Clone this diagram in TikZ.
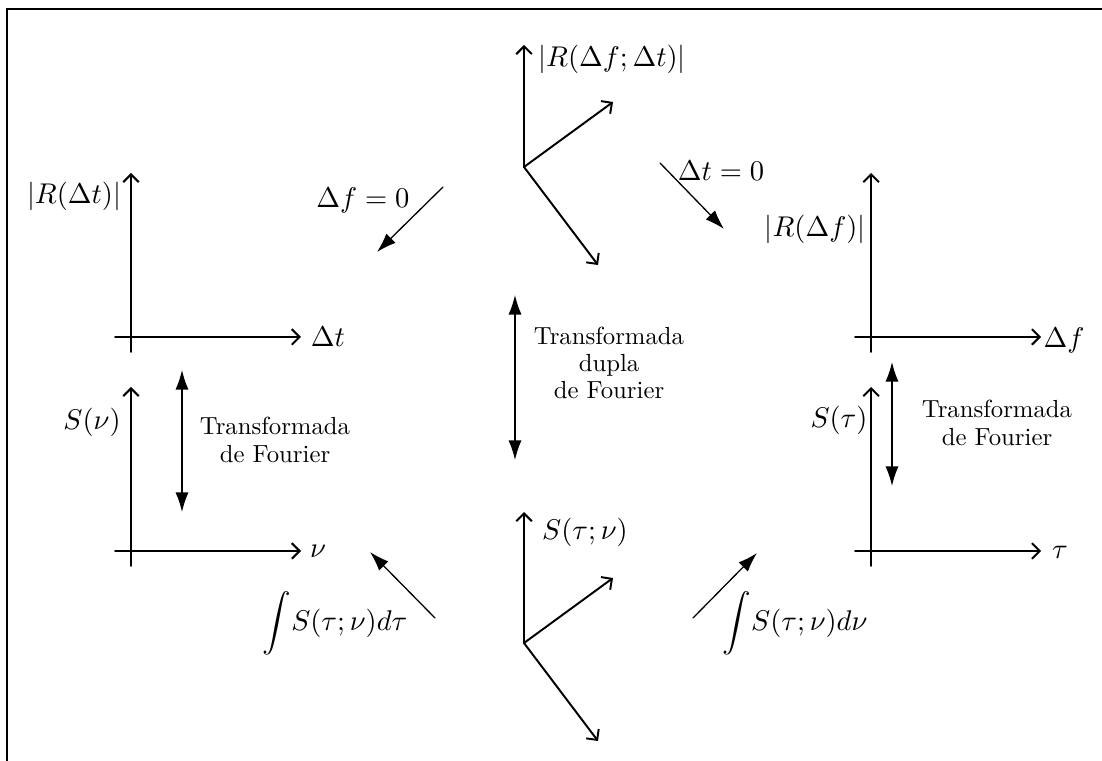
\documentclass[tikz,border=0pt]{standalone}
\usepackage{amsmath,amssymb}
\usetikzlibrary{arrows.meta,calc,positioning}
\tikzset{
 frame/.style={draw,line width=1.1pt},
 axis/.style={draw,line width=.75pt,-{Straight Barb[length=3pt,width=6pt]}},
 flow/.style={draw,line width=.5pt,-{Latex[length=7.5pt,width=5pt]}},
 twoway/.style={draw,line width=.5pt,{Latex[length=7.5pt,width=5pt]}-{Latex[length=7.5pt,width=5pt]}},
 quant/.style={inner sep=1pt,font=\fontsize{11}{13}\selectfont},
 note/.style={align=center,inner sep=1pt,font=\fontsize{9.5}{10.5}\selectfont}
}

\begin{document}
\begin{tikzpicture}[x=0.135mm,y=-0.135mm,line cap=round]
 \useasboundingbox (0,0) rectangle (1102,761);
 \draw[frame] (7,761) -- (7,9) -- (1102,9);
 % plane plots
 \foreach \n/\x/\y in {oRt/131/337,oSn/131/551,oRf/871/337,oSt/871/551}{
   \coordinate (\n) at (\x,\y);
   \draw[axis] ($(\n)+(-16,0)$) -- ($(\n)+(170,0)$);
   \draw[axis] ($(\n)+(0,15)$) -- ($(\n)+(0,-164)$);
 }
 % spatial plots
 \foreach \n/\x/\y/\h in {oR/524/167/122,oS/524/643/131}{
   \coordinate (\n) at (\x,\y);
   \draw[axis] (\n) -- ++(0,-\h);
   \draw[axis] (\n) -- ++(89,-65);
   \draw[axis] (\n) -- ++(74,98);
 }
 \node[quant] (Rft) at (612,59) {$\left|R(\Delta f;\Delta t)\right|$};
 \node[quant] (Stn) at (585,532) {$S(\tau;\nu)$};
 \node[quant] (Rt) at (74,196) {$\left|R(\Delta t)\right|$};
 \node[quant] (Rf) at (815,229) {$\left|R(\Delta f)\right|$};
 \node[quant] (Sn) at (92,422) {$S(\nu)$};
 \node[quant] (St) at (839,420) {$S(\tau)$};
 \node[quant] (xt) at (328,337) {$\Delta t$};
 \node[quant] (xf) at (1064,340) {$\Delta f$};
 \node[quant] (xn) at (318,551) {$\nu$};
 \node[quant] (xtau) at (1060,552) {$\tau$};
 % projections
 \coordinate (fz0) at (443,187); \coordinate (fz1) at (377,252);
 \coordinate (tz0) at (660,163); \coordinate (tz1) at (724,229);
 \coordinate (it0) at (435,618); \coordinate (it1) at (370,552);
 \coordinate (in0) at (693,618); \coordinate (in1) at (757,553);
 \draw[flow] (fz0) -- (fz1);
 \draw[flow] (tz0) -- (tz1);
 \draw[flow] (it0) -- (it1);
 \draw[flow] (in0) -- (in1);
 \node[quant] (fz) at (363,200) {$\Delta f=0$};
 \node[quant] (tz) at (721,171) {$\Delta t=0$};
 \node[quant] (it) at (335,623) {$\displaystyle\int\! S(\tau;\nu)d\tau$};
 \node[quant] (in) at (795,623) {$\displaystyle\int\! S(\tau;\nu)d\nu$};
 % transforms
 \coordinate (fl0) at (182,370); \coordinate (fl1) at (182,512);
 \coordinate (fc0) at (515,295); \coordinate (fc1) at (515,460);
 \coordinate (fr0) at (892,362); \coordinate (fr1) at (892,486);
 \draw[twoway] (fl0) -- (fl1);
 \draw[twoway] (fc0) -- (fc1);
 \draw[twoway] (fr0) -- (fr1);
 \node[note] (ftl) at (275,440) {Transformada\\de Fourier};
 \node[note] (ftc) at (609,363) {Transformada\\dupla\\de Fourier};
 \node[note] (ftr) at (997,423) {Transformada\\de Fourier};
\end{tikzpicture}
\end{document}
